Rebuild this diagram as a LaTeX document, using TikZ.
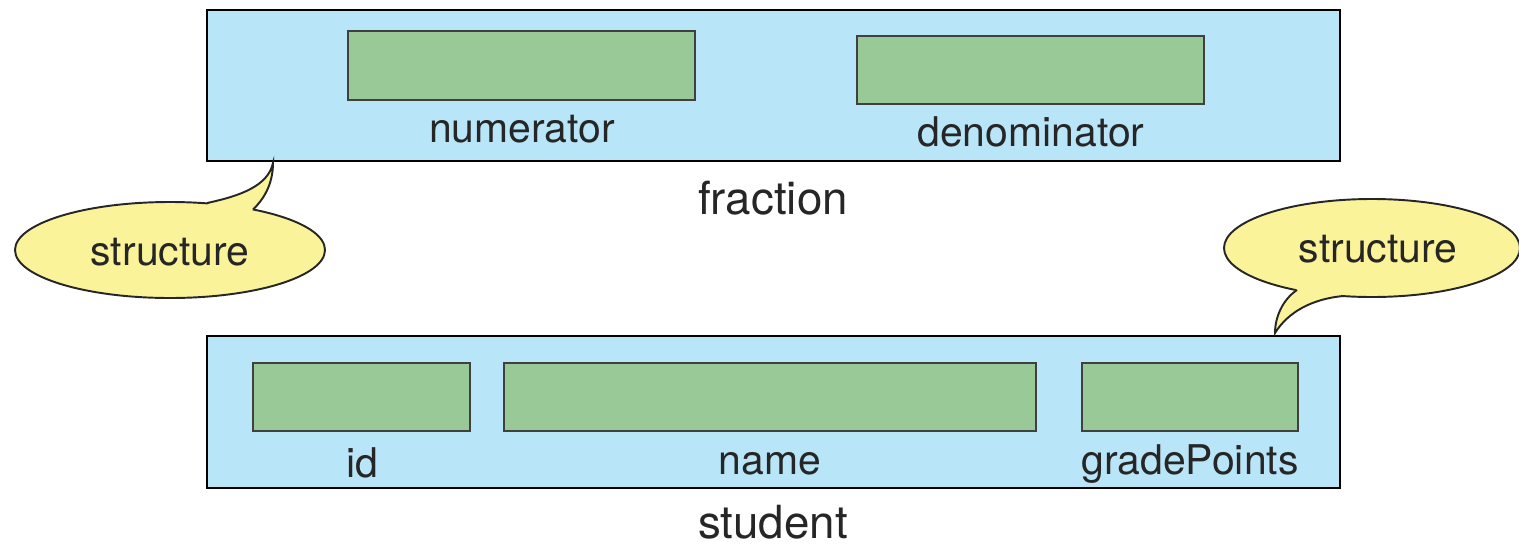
\documentclass[tikz,border=0pt]{standalone}
\usepackage{fontspec}
\setmainfont{TeX Gyre Heros}
\usetikzlibrary{shapes, calc}

\tikzset{
	record/.style={draw=black, fill=boxblue, line width=1.3pt, minimum width=22.66cm, inner sep=0pt},
	field/.style={draw=black!75, fill=fieldgreen, line width=1.2pt, minimum height=1.37cm, inner sep=0pt},
	lbl/.style={anchor=base, font=\fontsize{23.3}{27}\selectfont, text=black!85},
	title/.style={anchor=base, font=\fontsize{26}{30}\selectfont, text=black!85},
	bubble/.style={fill=calloutyellow, draw=black!85, line width=1.1pt}
}

\begin{document}
\begin{tikzpicture}[x=0.02cm, y=-0.02cm]
	\definecolor{boxblue}{RGB}{185,229,248}
	\definecolor{fieldgreen}{RGB}{152,201,150}
	\definecolor{calloutyellow}{RGB}{251,243,154}
	\useasboundingbox (0,0) rectangle (1519,545);
	% fraction
	\node[record, minimum height=3.02cm] (fraction) at (773.5,85.5) {};
	\node[field, minimum width=6.94cm] (numerator) at (521.5,65.5) {};
	\node[field, minimum width=6.94cm] (denominator) at (1030.5,70) {};
	\node[lbl] (numlabel) at (522,142) {numerator};
	\node[lbl] (denlabel) at (1031,146) {denominator};
	\node[title] (fraclabel) at (773,214) {fraction};
	% student
	\node[record, minimum height=3.04cm] (student) at (773.5,412) {};
	\node[field, minimum width=4.34cm] (id) at (361.5,397) {};
	\node[field, minimum width=10.64cm] (name) at (770,397) {};
	\node[field, minimum width=4.32cm] (gradepoints) at (1190,397) {};
	\node[lbl] (idlabel) at (362,477) {id};
	\node[lbl] (namelabel) at (770,474) {name};
	\node[lbl] (gplabel) at (1190,474) {gradePoints};
	\node[title] (studlabel) at (773,538) {student};
	% callouts
	\coordinate (tipA) at (273,163);
	\coordinate (tipB) at (1275,333);
	\draw[bubble] (170,250) ellipse [x radius=155, y radius=48];
	\fill[calloutyellow] (207,204) .. controls (240,196) and (268,186) .. (tipA)
		.. controls (273,185) and (263,200) .. (253,210) -- (230,225) -- cycle;
	\draw[black!85, line width=1.1pt] (207,203) .. controls (240,196) and (268,186) .. (tipA)
		.. controls (273,185) and (263,200) .. (253,209.5);
	\node[lbl] (structA) at (170,265) {structure};
	\draw[bubble] (1372,248) ellipse [x radius=148, y radius=49];
	\fill[calloutyellow] (1297,289) .. controls (1282,300) and (1275,318) .. (tipB)
		.. controls (1288,312) and (1312,299) .. (1343,297) -- (1320,270) -- cycle;
	\draw[black!85, line width=1.1pt] (1297,290) .. controls (1282,300) and (1275,318) .. (tipB)
		.. controls (1288,312) and (1312,299) .. (1343,296);
	\node[lbl] (structB) at (1378,262) {structure};
\end{tikzpicture}
\end{document}
